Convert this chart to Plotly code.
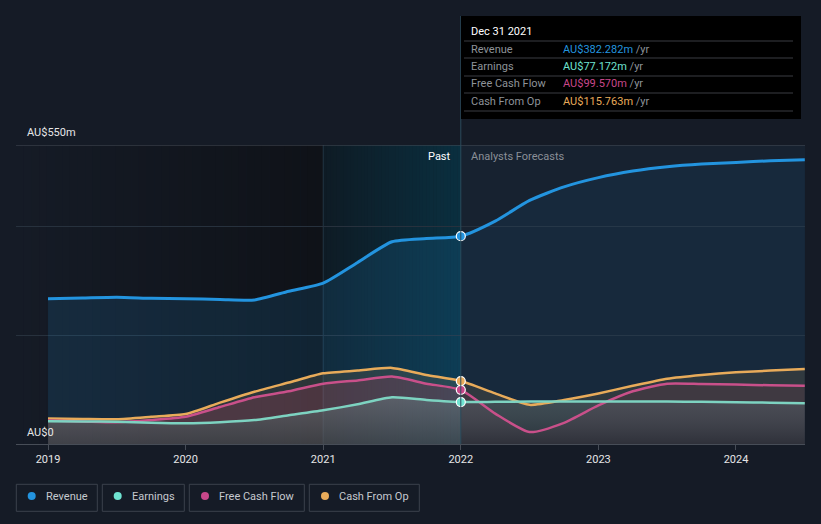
import plotly.graph_objects as go

# ---------------- data ----------------
years = [2019.0, 2019.25, 2019.5, 2019.75, 2020.0, 2020.25, 2020.5, 2020.75,
         2021.0, 2021.25, 2021.5, 2021.75, 2022.0, 2022.25, 2022.5, 2022.75,
         2023.0, 2023.25, 2023.5, 2023.75, 2024.0, 2024.25, 2024.5]
revenue = [267, 268.5, 270, 268, 267, 266, 265, 281,
           296, 334, 372, 378, 382.282, 410, 448, 473,
           490, 502, 510, 515, 518, 521, 523]
earnings = [42, 41.5, 41, 39, 38, 40, 44, 53,
            62, 73, 86, 81, 77.172, 77.5, 78, 78,
            78, 78, 78, 77.5, 77, 76, 75]
fcf = [43, 41.5, 40, 44, 50, 68, 86, 97,
       111, 117, 124, 111, 99.57, 56, 22, 39,
       71, 97, 111, 110.5, 109.5, 108, 107]
cfo = [47, 46, 45.5, 50, 55, 76, 96, 113,
       130, 135, 140, 127, 115.763, 93, 72, 81,
       93, 107, 120, 127, 132, 135, 138]

tick_years = [2019, 2020, 2021, 2022, 2023, 2024]
tick_labels = ["2019", "2020", "2021", "2022", "2023", "2024"]
y_grid = [0, 200, 400, 550]
y_labels = ["AU$0", "AU$550m"]
past_start, past_end = 2021, 2022
tooltip_date = "Dec 31 2021"
series_names = ["Revenue", "Earnings", "Free Cash Flow", "Cash From Op"]
series_colors = ["#2394df", "#6fe3d1", "#c8478a", "#e8ab5a"]
tooltip_values = ["AU$382.282m", "AU$77.172m", "AU$99.570m", "AU$115.763m"]

# ---------------- layout geometry ----------------
W, H = 821, 524
L, R, T, B = 16, 805, 145, 444
x_range = [2018.7674, 2024.5015]
y_range = [0, 550]


def px(xp):
    return (xp - L) / (R - L)


def py(yp):
    return (B - yp) / (B - T)


FONT = "Roboto"
fig = go.Figure()

split = years.index(past_end)
segments = {
    "past": slice(0, split + 1),
    "fore": slice(split, len(years)),
}
fill_style = {
    "past": dict(rev="rgba(35,148,223,0.14)", cfo="rgba(232,171,90,0.13)",
                 fcf="rgba(200,60,100,0.20)",
                 earn=[[0, "rgba(40,75,72,0.40)"], [1, "rgba(120,150,150,0.35)"]]),
    "fore": dict(rev="rgba(35,148,223,0.07)", cfo="rgba(232,171,90,0.12)",
                 fcf="rgba(200,60,90,0.10)",
                 earn=[[0, "rgba(30,40,50,0.50)"], [1, "rgba(100,120,130,0.30)"]]),
}
SM = 0.6
for seg, sl in segments.items():
    xs = years[sl]
    st = fill_style[seg]
    for vals, fc in [(revenue, st["rev"]), (cfo, st["cfo"]), (fcf, st["fcf"])]:
        fig.add_trace(go.Scatter(x=xs, y=vals[sl], mode="none", fill="tozeroy", fillcolor=fc,
                                 line=dict(shape="spline", smoothing=SM),
                                 hoverinfo="skip", showlegend=False))
    ev = earnings[sl]
    fig.add_trace(go.Scatter(x=xs, y=ev, mode="none", fill="tozeroy",
                             fillgradient=dict(type="vertical", colorscale=st["earn"],
                                               start=0, stop=max(ev)),
                             line=dict(shape="spline", smoothing=SM),
                             hoverinfo="skip", showlegend=False))

line_cols = {"Revenue": "#2394df", "Cash From Op": "#e8ab5a",
             "Free Cash Flow": "#c9508a", "Earnings": "#7dd3c1"}
for vals, nm, wd in [(revenue, "Revenue", 3), (cfo, "Cash From Op", 2.5),
                     (fcf, "Free Cash Flow", 2.5), (earnings, "Earnings", 2.5)]:
    fig.add_trace(go.Scatter(x=years, y=vals, mode="lines",
                             line=dict(color=line_cols[nm], width=wd, shape="spline", smoothing=SM),
                             hoverinfo="skip", showlegend=False))

idx = split
for vals, col in zip([revenue, earnings, fcf, cfo], series_colors):
    fig.add_trace(go.Scatter(x=[years[idx]], y=[vals[idx]], mode="markers",
                             marker=dict(size=9, color=col, line=dict(color="white", width=1.2)),
                             hoverinfo="skip", showlegend=False))

shapes = []
N = 40
c0 = (21, 27, 38)
c1 = (15, 18, 24)
span = past_start - x_range[0]
for i in range(N):
    t = i / (N - 1)
    c = tuple(int(round(c0[k] + (c1[k] - c0[k]) * t)) for k in range(3))
    shapes.append(dict(type="rect", xref="x", yref="paper",
                       x0=x_range[0] + span * i / N, x1=x_range[0] + span * (i + 1) / N + 0.002,
                       y0=0, y1=1, fillcolor="rgb(%d,%d,%d)" % c, line=dict(width=0), layer="below"))
c0 = (14, 27, 37)
c1 = (10, 47, 63)
span = past_end - past_start
for i in range(N):
    t = i / (N - 1)
    c = tuple(int(round(c0[k] + (c1[k] - c0[k]) * t)) for k in range(3))
    shapes.append(dict(type="rect", xref="x", yref="paper",
                       x0=past_start + span * i / N, x1=past_start + span * (i + 1) / N + 0.002,
                       y0=0, y1=1, fillcolor="rgb(%d,%d,%d)" % c, line=dict(width=0), layer="below"))
shapes.append(dict(type="line", xref="x", yref="paper", x0=past_start, x1=past_start, y0=0, y1=1,
                   line=dict(color="rgba(60,90,110,0.45)", width=1), layer="below"))
shapes.append(dict(type="line", xref="paper", yref="y", x0=0, x1=1, y0=550, y1=550,
                   line=dict(color="#474d57", width=1)))
shapes.append(dict(type="line", xref="x", yref="paper", x0=past_end, x1=past_end,
                   y0=0, y1=py(16), line=dict(color="#2c4a5c", width=1)))
shapes.append(dict(type="rect", xref="paper", yref="paper", x0=px(461), x1=px(801),
                   y0=py(16), y1=py(119), fillcolor="#000000", line=dict(width=0)))
for yl in [41, 58, 76, 93, 111]:
    shapes.append(dict(type="line", xref="paper", yref="paper", x0=px(464), x1=px(793),
                       y0=py(yl), y1=py(yl), line=dict(color="#3a3d42", width=1)))

annotations = []
annotations.append(dict(xref="paper", yref="paper", x=px(469), y=py(31), text=tooltip_date,
                        showarrow=False, xanchor="left", yanchor="middle",
                        font=dict(family=FONT, size=11, color="#ffffff")))
for i, (nm, col, val) in enumerate(zip(series_names, series_colors, tooltip_values)):
    yy = [49.5, 66.5, 84, 101.5][i]
    annotations.append(dict(xref="paper", yref="paper", x=px(469), y=py(yy), text=nm,
                            showarrow=False, xanchor="left", yanchor="middle",
                            font=dict(family=FONT, size=11, color="#8e9399")))
    annotations.append(dict(xref="paper", yref="paper", x=px(561), y=py(yy),
                            text="<span style='color:%s'>%s</span> /yr" % (col, val),
                            showarrow=False, xanchor="left", yanchor="middle",
                            font=dict(family=FONT, size=11, color="#8e9399")))

annotations.append(dict(xref="paper", yref="paper", x=px(25), y=py(132), text=y_labels[1],
                        showarrow=False, xanchor="left", yanchor="middle",
                        font=dict(family=FONT, size=11, color="#e6e6e6")))
annotations.append(dict(xref="paper", yref="paper", x=px(25), y=py(432), text=y_labels[0],
                        showarrow=False, xanchor="left", yanchor="middle",
                        font=dict(family=FONT, size=11, color="#e6e6e6")))
annotations.append(dict(xref="paper", yref="paper", x=px(453), y=py(156), text="Past",
                        showarrow=False, xanchor="right", yanchor="middle",
                        font=dict(family=FONT, size=11, color="#ffffff")))
annotations.append(dict(xref="paper", yref="paper", x=px(469), y=py(156), text="Analysts Forecasts",
                        showarrow=False, xanchor="left", yanchor="middle",
                        font=dict(family=FONT, size=11, color="#8a8f97")))

boxes = [(16.3, 97.3), (102.3, 184.3), (189.3, 304.3), (309.3, 419.3)]
dots = [31.7, 117.7, 205, 325]
texts_x = [44, 130, 217, 337]
for (x0, x1), dx, tx, nm, col in zip(boxes, dots, texts_x, series_names, series_colors):
    shapes.append(dict(type="rect", xref="paper", yref="paper", x0=px(x0), x1=px(x1),
                       y0=py(484.3), y1=py(511.3), line=dict(color="#3b424d", width=1),
                       fillcolor="rgba(0,0,0,0)"))
    shapes.append(dict(type="circle", xref="paper", yref="paper", x0=px(dx - 4), x1=px(dx + 4),
                       y0=py(496 - 4), y1=py(496 + 4), fillcolor=col, line=dict(width=0)))
    annotations.append(dict(xref="paper", yref="paper", x=px(tx), y=py(496.5), text=nm,
                            showarrow=False, xanchor="left", yanchor="middle",
                            font=dict(family=FONT, size=11, color="#c5c9cf")))

fig.update_layout(
    width=W, height=H,
    margin=dict(l=L, r=W - R, t=T, b=H - B, pad=0),
    paper_bgcolor="#151b26",
    plot_bgcolor="#172230",
    shapes=shapes,
    annotations=annotations,
    showlegend=False,
    font=dict(family=FONT, size=11, color="#e6e6e6"),
    xaxis=dict(range=x_range, tickvals=tick_years, ticktext=tick_labels,
               showgrid=False, zeroline=False, showline=True, linecolor="#474d57", linewidth=1,
               ticks="outside", ticklen=5, tickcolor="#474d57",
               tickfont=dict(family=FONT, size=11, color="#e6e6e6")),
    yaxis=dict(range=y_range, tickvals=y_grid, showticklabels=False, showgrid=True,
               gridcolor="#27313d", gridwidth=1, zeroline=False, showline=False, fixedrange=True),
)

fig.write_html("out.html", config={"displayModeBar": False},
               post_script="document.body.style.margin='0';document.body.style.background='#151b26';")
